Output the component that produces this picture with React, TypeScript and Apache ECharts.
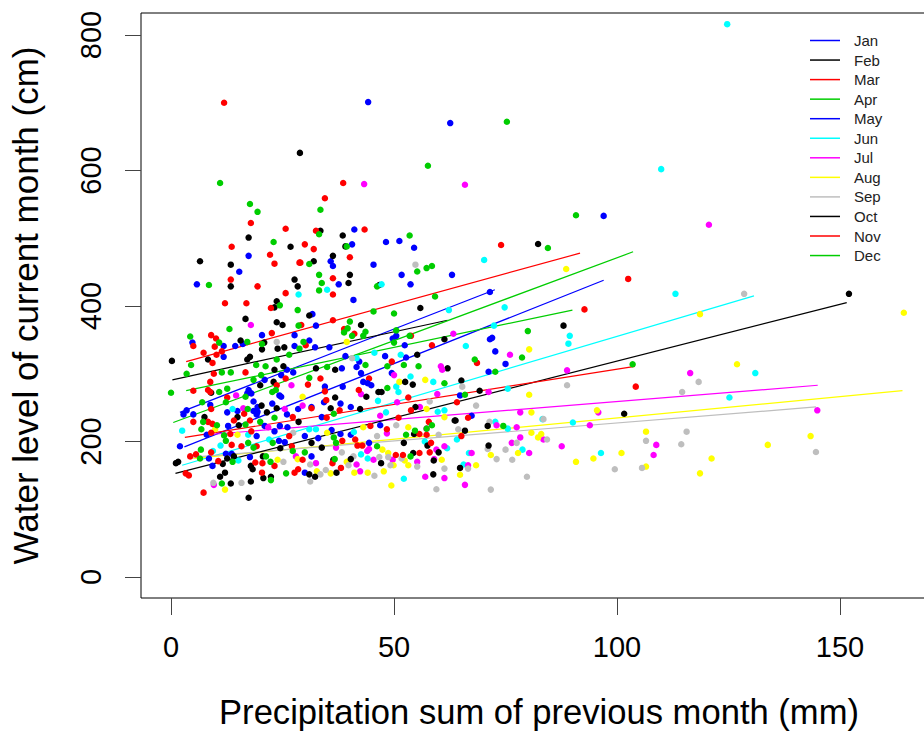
import React, { useEffect, useRef } from "react";
import * as echarts from "echarts";

const months = ["Jan", "Feb", "Mar", "Apr", "May", "Jun", "Jul", "Aug", "Sep", "Oct", "Nov", "Dec"];
const monthColors = ["#0000ff", "#000000", "#ff0000", "#00cd00", "#0000ff", "#00ffff", "#ff00ff", "#ffff00", "#bebebe", "#000000", "#ff0000", "#00cd00"];
const xTicks = [0, 50, 100, 150];
const yTicks = [0, 200, 400, 600, 800];

const janPoints = [[17.4,474],[15.3,450.5],[5.8,432],[20.4,357],[4.8,346],[11.8,341],[14.4,341],[16.1,344],[27.7,357],[27.7,341],[11.8,325],[24.7,298],[26,306],[27.4,302],[21,291],[17.4,276],[17.1,271],[18,271],[24.3,268],[24.7,266],[41.1,513],[40.6,491],[48.2,494.5],[51.2,496],[54.5,486],[35.8,466],[36.3,459],[45.4,461],[63,446],[51.7,446],[37.6,432],[53.7,432],[40.9,409],[31.7,388],[32.5,371],[49.7,352],[50.5,356],[31,349],[32.3,339],[35.5,339],[52.4,342],[44.2,701],[62.6,670],[97,533],[71.5,420.7]];
const febPoints = [[17.4,501],[26.8,487.5],[6.5,466],[13.4,461],[27.7,439],[13.4,429],[28.4,429],[23.7,407],[23.2,398],[16.7,381],[23.7,376],[25,372],[15.6,349],[20.9,346],[23.9,337],[25.4,339],[0.2,319],[8.3,321],[17.1,321],[17.7,325],[20.4,336],[25.2,311],[23.2,306],[23,288],[33.5,511],[38.5,504],[39.1,488],[36.3,474],[32,466],[40.1,446],[39.8,434],[46.7,431],[55.9,397],[31,386],[42.6,372],[61.3,351],[55.2,328],[32.5,308],[36.8,306],[62,308],[28.9,626],[82.3,491.5],[88,371],[65.1,290]];
const marPoints = [[11.9,700],[38.6,581.5],[34.5,559],[17.9,522.5],[25.7,514],[13.6,487.5],[22.2,475.7],[23.2,462.5],[28.8,464],[13.4,439],[19.4,429],[25.7,419],[12.1,404],[16.9,404],[22.4,397],[22.6,360],[9,357],[10.1,352],[5,341],[9.8,340],[7.3,331],[9.3,316],[10.2,328],[11.4,333],[32.5,511],[43.4,513],[30,491],[32,484],[40.1,472],[29,464],[36.3,441],[36.3,417],[36.3,379],[29.2,372],[38.8,366],[41.1,359],[53.8,356],[58.5,342],[30.2,342],[49.5,318],[33.5,293],[44.4,293],[74,490],[102.5,440],[92.7,395],[68.6,316],[104.2,281]];
const aprPoints = [[11,581.5],[57.6,607],[75.3,672],[17.7,550.5],[19.4,539],[23,494.5],[8.5,431],[28.4,394],[24.4,401],[13.1,366],[28.6,371],[4.3,355],[10.8,346],[17.1,347],[20.4,344],[28.8,337],[33.5,542],[33.2,506],[39.4,488],[53.5,504],[31,462],[55.2,451],[57.3,456],[58.5,459],[33.2,446],[33.8,434],[46.2,429],[33.2,423],[59.2,414],[45.4,392],[50,389],[40.1,377],[39.6,367],[38.8,361],[40.6,356],[43.6,362],[50.5,364],[53.5,356],[50,346],[43.1,356],[29.7,347],[90.8,534],[84.5,485.6],[103.5,314],[80,363],[78.7,324],[68.1,321]];
const mayPoints = [[18.5,259],[8.8,254],[22.7,256],[18.5,245],[19.4,251],[28.5,248],[3.5,246],[2.8,240],[5,240],[12.6,243],[14.9,245],[19.4,244],[26,240],[19.2,240],[12.8,223],[21,223],[24.4,223],[26.1,221],[8,210],[23.2,215],[19.2,208],[2,193],[24.2,201],[25.5,199],[12.3,182],[13.6,182],[8.5,175],[17.7,177],[9.3,164],[39.1,326],[48,326],[52.7,324],[42.2,318],[41.6,310],[38.3,308],[42.6,301],[49.5,301],[43.1,288],[44.1,286],[44.9,283],[34.5,281],[38.5,281],[34.3,258],[38,256],[31.5,251],[40.3,251],[33.8,236],[46.9,224],[36,217],[38,211],[40.3,210],[30,208],[33,205],[44.4,198],[31.5,178],[30,154],[71.5,351],[72,353],[72.7,333],[75,314.5],[71.2,303],[64.8,268],[67.4,238]];
const junPoints = [[28.6,417],[35,424],[47.2,432],[62.3,394],[45.6,331],[51.5,328],[41.6,323],[53.7,296],[58.8,288],[50.5,281],[51,273],[46.4,260],[59.8,244],[61.3,246],[48.2,243],[32.5,218],[31,218],[41,214],[56.9,200],[61.9,190],[42.6,181],[44.1,175],[52.2,145],[13.8,248],[2.5,216],[17.3,210],[22,203],[11.1,194],[9.4,186],[15.1,172],[124.7,816],[109.9,602],[70.2,468],[113.1,418],[74.8,398],[72.4,371],[89.4,356],[89.1,344.4],[66.1,341],[75.5,278],[72.7,229],[75.5,219],[83.3,233],[90.1,228],[64.1,203],[78.8,188],[66.8,183],[96.4,183],[65.6,166],[131,301],[125.2,265]];
const julPoints = [[17.9,372],[27,283],[14.6,268],[16.2,249],[25.5,248],[21.8,221],[28,178],[9.6,136],[63.3,359],[60.5,311],[60.8,306],[50,298],[42.6,270],[59.7,270],[50.7,258],[55.8,251],[29.5,253],[46.9,238],[48.4,212],[57.3,219],[44.4,189],[44,186],[59.5,188],[61.3,193],[37,191],[45.4,173],[32.5,168],[41.6,166],[49.7,173],[55.2,170],[59,174],[42.4,156],[57,148],[61.3,146],[43.3,580],[65.9,579],[120.6,520],[76,328],[88.8,305],[71.2,273],[78.3,243],[95.8,243],[73,224],[77.5,221],[93.9,224],[78.3,206],[83.5,203],[76.4,198],[87.6,193],[80.3,183],[67.4,183],[66.6,165],[65.9,136],[116.4,301],[144.9,246],[108.8,195],[108.2,180]];
const augPoints = [[9.9,218],[14.9,210],[23.9,173],[28.4,174],[12.1,129],[39.4,347],[51.2,288],[57,291],[29.5,266],[57.3,248],[61.3,236],[43.1,221],[53.2,221],[35,213],[47.4,188],[48.7,183],[52.4,172],[49.9,165],[60.7,173],[53.2,165],[39.4,170],[32.7,156],[35.8,153],[41.1,154],[44.1,154],[47.7,156],[49.4,135],[88.6,454.6],[118.6,388],[164.3,390],[80.3,336],[126.9,314],[80.3,269],[80.8,243],[95.5,246],[80.8,213],[82.3,206],[83,211],[77.8,183],[71.7,180],[101,183],[94.7,175],[90.8,170],[68.4,165],[64.8,151],[106.5,214.5],[133.8,195],[143.4,208],[121.2,175],[106.5,163],[118.6,153]];
const sepPoints = [[23.7,347],[27.4,213],[25.2,170],[9.5,139],[15.8,139],[54.8,461],[40.6,323],[58,259],[50.5,224],[46.2,208],[60,210],[38.3,184],[46.7,177],[48.7,177],[40.9,178],[51.7,175],[49.2,165],[55.2,163],[39.8,165],[34.7,158],[31.2,166],[33.5,151.5],[45.6,149.5],[31.2,141],[61.3,160],[59.5,129.5],[128.5,418],[65.3,281],[88.8,283],[68.4,253],[71.4,229],[83.5,233],[64.4,218],[84.3,203],[77.5,198],[75,188],[71,189],[73,174],[76.5,173],[99.5,159],[66.6,160],[79.8,148],[71.7,129],[118.3,288],[114.6,273],[115.6,214.5],[106.5,201],[114.4,196],[144.6,184.5],[105.6,161]];
const octPoints = [[20,283],[9,272],[20.3,253],[23.7,249],[21.5,243],[14.9,236],[7.5,236],[28.6,229],[15.2,224],[24.5,190],[12.6,175],[14.1,178],[11.6,167],[1.1,168],[1.6,170],[12.1,154],[11,148],[20.6,178],[17.9,164],[18.3,159],[20.7,146],[22.4,148],[13.4,138],[17.9,141],[17.4,117],[52.5,288],[54.2,284],[46.5,273],[47.2,273],[43.8,266],[36.8,265],[35.8,249],[42.4,248],[54.8,251],[63.6,231],[54.5,211],[52.2,198],[31.5,198],[57.5,194],[60,184],[33.8,191],[54.3,183],[40.3,174],[36.4,173],[47.1,168],[58.9,172],[37.1,154],[31,151.5],[32.3,148],[58.8,151.5],[69.2,275],[63.8,231],[71,223],[65.9,216],[71.2,194],[64.8,161],[101.6,241],[152,418]];
const novPoints = [[9.6,300],[16.7,302],[25.7,293],[8.8,288],[23.7,283],[5,275],[8.3,276],[8.8,273],[12.6,265],[9,248],[16.4,241],[5,229],[8.3,229],[9.3,226],[14.1,231],[17.7,231],[27.3,236],[9,213],[18,215],[13.3,211],[26.5,208],[13.6,195],[15.8,193],[9,184],[19.2,193],[27.1,193],[5.6,181],[4.3,178],[10.6,171],[3.3,153],[4,150],[18.9,169],[20.5,168],[23.2,164],[20.4,154],[27.7,154],[28.5,159],[7.3,124.5],[30.7,284],[42.1,276],[53.2,265],[34.5,274],[34.8,261],[31.5,249],[37.8,246],[53.8,246],[34.9,235],[51,235],[57.8,229],[44.7,223],[48.4,218],[55.7,211],[57.3,210],[38.4,201],[41.3,203],[41.8,194],[42.9,194],[58.3,198],[58,184],[50.4,180],[52,180],[55.7,183],[29.5,173],[36.2,168],[38.1,161],[64.1,258],[66.6,235],[65.1,208]];
const decPoints = [[4.5,313],[19.1,313],[21.2,311],[23.7,321],[26.5,328],[3.5,300],[11.4,302],[13.4,302],[20.2,298],[18.5,291],[0,272],[10.8,273],[12.6,278],[22.7,273],[23.5,276],[12.3,258],[16.7,266],[7,258],[17.2,248],[23.2,235],[7.2,229],[10.3,224],[20,229],[16.7,225],[6.8,218],[11.9,209],[12.3,201],[22.8,198],[17.3,198],[18.5,191],[6.7,188],[27.3,186],[6.5,175],[13.8,170],[21.3,178],[22.3,170],[22.4,143],[25.8,153],[11.4,138],[48.5,311],[52.2,313],[55.5,311],[43.6,313],[35,310],[31,294],[61.3,286],[48.5,279],[36.5,241],[58.5,224],[54.7,216],[57.3,219],[52.7,210],[36.5,206],[37,198],[46.2,193],[30,184],[53.7,178],[36.7,174],[72.7,303],[65.9,269],[74.5,223]];
const monthPoints = [janPoints, febPoints, marPoints, aprPoints, mayPoints, junPoints, julPoints, augPoints, sepPoints, octPoints, novPoints, decPoints];

const janLine = [[2,243],[72.6,424]];
const febLine = [[0.3,291],[62,379]];
const marLine = [[3.4,318],[91.7,478]];
const aprLine = [[0.5,228],[103.6,480]];
const mayLine = [[3,192],[97,438]];
const junLine = [[2.5,165],[130.7,415]];
const julLine = [[8,210],[145,283]];
const augLine = [[5,175],[164,275]];
const sepLine = [[5,177],[144.6,251]];
const octLine = [[1,153],[151.5,405]];
const novLine = [[3.1,206],[104,311]];
const decLine = [[3.4,275],[90,394]];
const monthLines = [janLine, febLine, marLine, aprLine, mayLine, junLine, julLine, augLine, sepLine, octLine, novLine, decLine];

const FONT = "'Liberation Sans', Arial, sans-serif";

export default function App() {
  const ref = useRef<HTMLDivElement>(null);
  useEffect(() => {
    const chart = echarts.init(ref.current!, null, { renderer: "svg" });
    const scatter = months.map((m, i) => ({
      type: "scatter",
      name: m + " points",
      data: monthPoints[i],
      symbol: "circle",
      symbolSize: 6.5,
      z: 3,
      itemStyle: { color: monthColors[i], opacity: 1 },
      silent: true,
    }));
    const lines = months.map((m, i) => ({
      type: "line",
      name: m,
      data: monthLines[i],
      showSymbol: false,
      symbol: "none",
      z: 2,
      lineStyle: { color: monthColors[i], width: 1.2 },
      itemStyle: { color: monthColors[i] },
      silent: true,
    }));
    chart.setOption({
      animation: false,
      backgroundColor: "#ffffff",
      textStyle: { fontFamily: FONT },
      grid: { left: 141, top: 13, width: 796, height: 585, outerBoundsMode: "none", containLabel: false, show: true, borderColor: "#000", borderWidth: 1, backgroundColor: "transparent" },
      xAxis: {
        type: "value",
        min: -6.73,
        max: 171.74,
        name: "Precipitation sum of previous month (mm)",
        nameLocation: "middle",
        nameGap: 96,
        nameTextStyle: { fontFamily: FONT, fontSize: 34.6, color: "#000" },
        axisLine: { show: false, onZero: false },
        splitLine: { show: false },
        axisTick: { show: true, length: 17, lineStyle: { color: "#444" }, customValues: xTicks },
        axisLabel: { show: true, margin: 34, fontFamily: FONT, fontSize: 29, color: "#000", customValues: xTicks, formatter: (v: number) => String(v) },
      },
      yAxis: {
        type: "value",
        min: -31,
        max: 832.5,
        name: "Water level of current month (cm)",
        nameLocation: "middle",
        nameGap: 98,
        nameRotate: 90,
        nameTextStyle: { fontFamily: FONT, fontSize: 35, color: "#000" },
        axisLine: { show: false, onZero: false },
        splitLine: { show: false },
        axisTick: { show: true, length: 16, lineStyle: { color: "#444" }, customValues: yTicks },
        axisLabel: { show: true, margin: 36, rotate: 90, fontFamily: FONT, fontSize: 29, color: "#000", customValues: yTicks, formatter: (v: number) => String(v) },
      },
      legend: {
        show: true,
        orient: "vertical",
        left: 810,
        top: 33,
        padding: 0,
        icon: "rect",
        itemWidth: 30,
        itemHeight: 1.5,
        itemGap: 4.55,
        data: months,
        selectedMode: false,
        textStyle: { fontFamily: FONT, fontSize: 15, color: "#222", padding: [0, 0, 0, 9] },
      },
      series: [...lines, ...scatter],
    });
    return () => chart.dispose();
  }, []);
  return <div ref={ref} style={{ position: "absolute", left: 0, top: 0, width: 924, height: 731, overflow: "hidden" }} />;
}
